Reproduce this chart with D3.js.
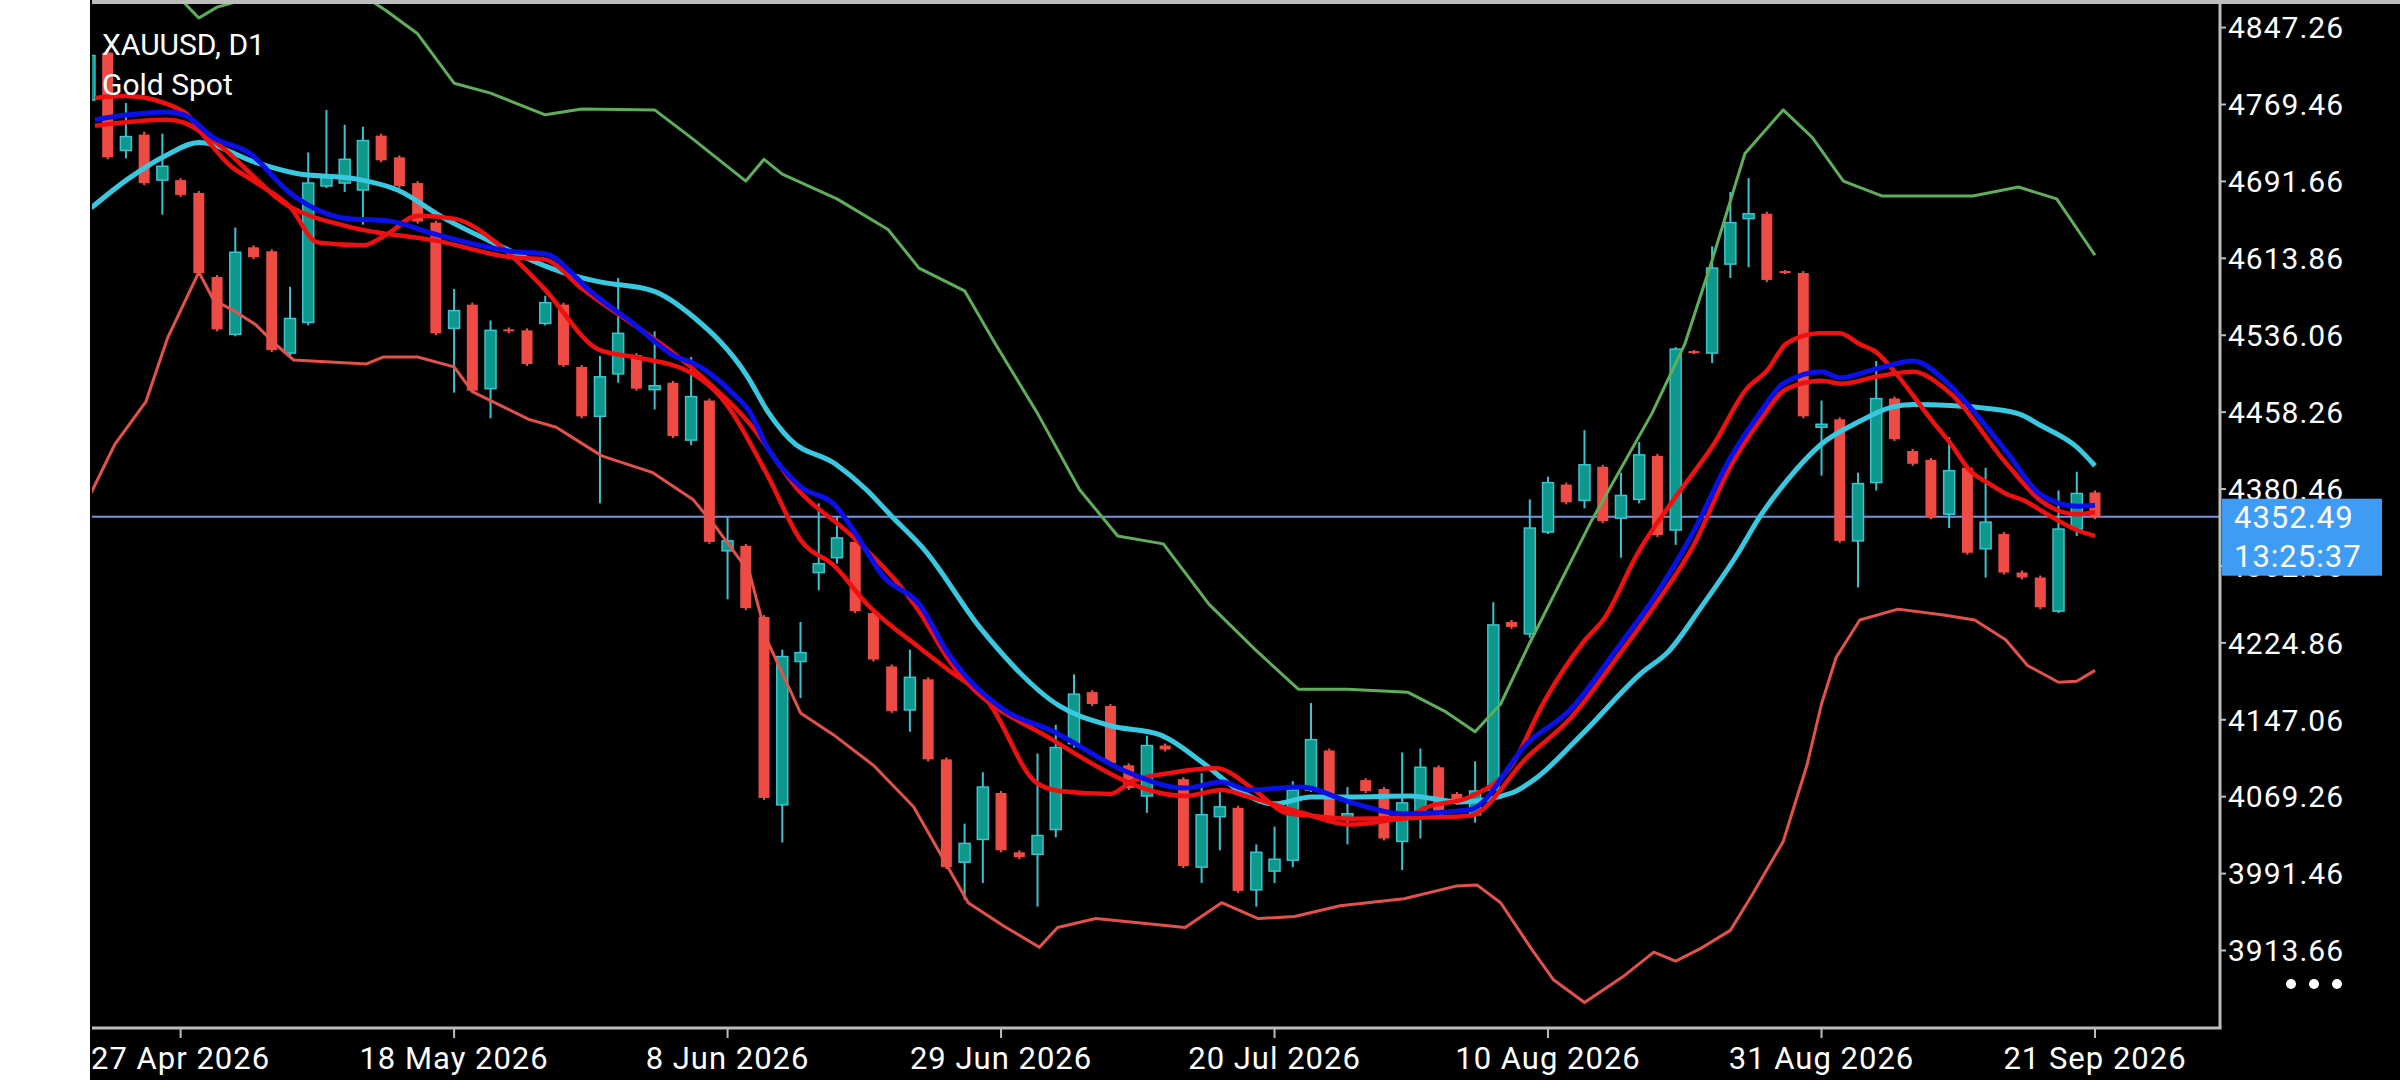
<!DOCTYPE html>
<html>
<head>
<meta charset="utf-8">
<script src="https://cdn.jsdelivr.net/npm/d3@7"></script>
<style>
  html, body { margin: 0; padding: 0; background: #000; }
  svg { display: block; }
</style>
</head>
<body>
<svg id="chart" width="2400" height="1080"></svg>
<script>
// bar index 0 = 27 Apr 2026, 105 = 21 Sep 2026
var barStart = -5;
var opens  = [4774,4822,4723,4739,4693, 4693,4680,4595,4537,4625, 4621,4518,4549,4687,4690, 4683,4738,4716,4690,4650,
  4543,4567,4482,4542,4541, 4548,4567,4504,4454,4497, 4516,4481,4488,4430,4470, 4318,4323,4251,4061,4206,
  4296,4311,4327,4255,4201, 4157,4188,4107,4003,4026, 4073,4013,4011,4036,4123, 4175,4161,4101,4070,4121,
  4087,3998,4049,4058,3975, 3994,4005,4076,4116,4046, 4086,4077,4024,4049,4099, 4072,4051,4076,4246,4234,
  4337,4385,4369,4403,4351, 4370,4414,4339,4520,4518, 4608,4654,4659,4601,4599, 4443,4451,4328,4387,4472,
  4419,4410,4355,4402,4320, 4335,4296,4291,4257,4340, 4377];
var highs  = [4825,4826,4771,4742,4740, 4695,4682,4597,4645,4627, 4623,4585,4721,4764,4749, 4747,4740,4718,4692,4652,
  4583,4569,4551,4544,4543, 4576,4569,4506,4515,4594, 4518,4540,4490,4514,4472, 4352,4325,4253,4218,4246,
  4366,4353,4329,4257,4203, 4218,4190,4109,4042,4094, 4075,4015,4113,4142,4193, 4177,4163,4103,4131,4123,
  4089,4093,4076,4060,4021, 4039,4085,4164,4118,4079, 4088,4079,4114,4118,4101, 4074,4105,4266,4248,4370,
  4393,4387,4440,4405,4397, 4428,4416,4524,4521,4626, 4681,4695,4661,4602,4601, 4470,4453,4397,4510,4474,
  4421,4412,4433,4404,4402, 4337,4298,4293,4379,4398, 4379];
var lows   = [4770,4714,4715,4688,4658, 4676,4597,4540,4535,4613, 4519,4514,4546,4685,4681, 4648,4711,4685,4649,4536,
  4478,4478,4452,4538,4505, 4546,4504,4452,4366,4488, 4480,4461,4432,4425,4325, 4269,4258,4066,4023,4169,
  4278,4305,4255,4206,4154, 4135,4105,3996,3965,3982, 4013,4006,3958,4028,4119, 4161,4101,4076,4053,4115,
  3997,3982,4015,3972,3958, 3982,3998,4074,4047,4021, 4073,4025,3995,4027,4047, 4061,4043,4074,4239,4230,
  4335,4365,4361,4346,4311, 4366,4332,4324,4517,4508, 4594,4605,4590,4598,4452, 4394,4326,4281,4379,4429,
  4404,4350,4341,4314,4291, 4294,4289,4259,4255,4333, 4350];
var closes = [4819,4716,4737,4690,4707, 4678,4599,4542,4620,4615, 4521,4553,4690,4698,4714, 4733,4713,4687,4651,4538,
  4561,4480,4541,4540,4507, 4569,4506,4454,4494,4538, 4482,4485,4434,4474,4327, 4328,4260,4068,4211,4215,
  4305,4331,4257,4208,4156, 4190,4107,3998,4022,4079, 4015,4008,4030,4119,4173, 4163,4103,4078,4121,4117,
  3999,4051,4059,3974,4013, 4006,4076,4127,4049,4052, 4075,4027,4063,4099,4049, 4063,4075,4243,4241,4341,
  4387,4367,4405,4348,4374, 4415,4334,4522,4518,4604, 4650,4659,4592,4599,4454, 4446,4328,4386,4472,4431,
  4406,4352,4399,4316,4347, 4296,4291,4261,4340,4376, 4352.49];

// indicator lines, sampled at bar positions
var upperK = [-5,0,1,2,3,5,8,10,11.3,13,15,17,20,22,26,28,31,32,33,36,38.8,40.5,43,44.7,47,49.3,51.4,53.9,56.4,59,61.3,64,67.3,69.4,71,72.4,74,77.4,80.7,82.5,84,85.8,87.9,89.5,91.2,93.3,98.3,100.8,102.9,105];
var upperV = [4900,4876,4857,4868,4873,4890,4895,4880,4864,4841,4791,4781,4759,4765,4764,4736,4692,4714,4699,4674,4643,4604,4581,4527,4457,4380,4333,4325,4264,4217,4178,4178,4175,4155,4135,4163,4225,4349,4457,4527,4612,4720,4764,4736,4692,4677,4677,4686,4674,4617];
var lowerK = [-4.9,-3.6,-1.9,-0.7,1,1.8,2.9,4.1,5.2,6.2,10.2,11.1,13,15,16,19.1,20.6,23.1,25.9,28.1,29.4,31.2,32.2,34,35.8,38,40.2,43.2,45.1,47.1,48.1,50.2,55.1,57.1,59.1,61.1,63.6,67.1,70,71.1,72.4,74.1,75.3,77,79.1,80.8,82,83.3,85,86.2,87.9,89.2,90,90.8,92.1,94.2,96.7,98.4,100.1,101.3,103,104,105];
var lowerV = [4377,4426,4469,4534,4600,4572,4561,4547,4527,4511,4507,4514,4514,4504,4479,4451,4443,4414,4397,4370,4341,4296,4226,4154,4132,4101,4059,3962,3939,3917,3937,3946,3937,3962,3946,3948,3959,3966,3979,3980,3962,3915,3884,3861,3887,3912,3903,3915,3934,3970,4024,4101,4163,4210,4248,4259,4253,4248,4228,4202,4185,4186,4197];
var blueK = [-4.7,-2.9,-0.7,0.2,1.8,3.8,6,9.2,11.3,14.2,18.1,20.1,21.4,22.1,24.9,27.2,28.1,30.3,31.2,32.2,34,35.9,36.9,38.5,40.6,42,45.1,47.9,51.7,55.1,57.1,58.6,61.5,64.1,67,70.7,73.9,76.2,78.9,80.9,83,85,86.6,87.9,90,91,93,95,96.9,98.3,100.2,102,104,105];
var blueV = [4754,4759,4762,4759,4736,4720,4680,4654,4652,4637,4621,4618,4600,4587,4547,4514,4508,4477,4459,4422,4383,4364,4339,4293,4262,4217,4158,4135,4096,4078,4084,4076,4079,4064,4052,4056,4124,4157,4222,4273,4338,4412,4457,4487,4499,4493,4502,4510,4488,4460,4417,4375,4363,4364];
var redMidK = [-4.7,-0.7,0.2,1.8,6,9.2,14.2,18.1,19.9,22.1,28.1,31.1,34,36.7,40.6,42,47.9,55.1,57.1,58.6,61.5,64.1,67,70.7,73.9,76.2,78.9,80.9,83,85,86.6,88.1,90,91.1,93,95,96.9,100.2,102,104,105];
var redMidV = [4748,4754,4751,4733,4666,4646,4631,4615,4613,4582,4502,4449,4377,4335,4254,4211,4126,4070,4076,4069,4053,4041,4047,4050,4110,4148,4213,4264,4324,4403,4449,4482,4490,4487,4494,4499,4480,4405,4369,4355,4357];
var redFastK = [-4.7,-3,0.2,1.3,2.7,4.1,6,7.5,10,11.3,13,15,17.5,19.9,23,25.2,27.9,29.6,32.2,34,35.9,37.6,40.6,42,44.3,46.9,48.2,51,52.1,54.2,56.8,58.9,60.6,62,64.1,67,68.4,70.7,73,74.8,77,78.1,79.9,81.9,84.1,85.9,87,88.1,89.9,91,92.1,93,94.1,96,97.1,98.2,99.1,100.2,101.1,102.2,104,105];
var redFastV = [4776,4778,4762,4737,4708,4691,4666,4630,4627,4638,4657,4654,4627,4584,4521,4513,4499,4474,4394,4329,4302,4265,4219,4199,4165,4084,4075,4072,4084,4093,4098,4076,4053,4050,4047,4048,4059,4069,4101,4166,4227,4250,4315,4370,4426,4482,4500,4528,4538,4538,4527,4519,4497,4451,4426,4398,4387,4375,4369,4357,4339,4333];
var cyanK = [-4.9,-2.9,-0.7,1,4.1,6.3,9.7,11.9,14.4,17,20.9,23,25.9,28.1,31.1,32.2,33.4,35.9,37.6,39,40.8,43.9,48.2,51,53.7,56.1,58,60,62,64.1,67.4,70.2,73,74.2,77,80.1,81.6,83.4,85.4,86.6,88.1,90,92.1,93.8,95,97.1,99.1,100.9,102,104,105];
var cyanV = [4665,4694,4719,4731,4711,4700,4694,4683,4655,4631,4600,4590,4581,4555,4494,4459,4431,4406,4380,4353,4319,4239,4161,4141,4132,4103,4076,4062,4069,4069,4070,4064,4073,4086,4135,4194,4216,4261,4315,4352,4389,4426,4449,4463,4466,4465,4462,4456,4445,4423,4404];

var priceTicks = [4847.26,4769.46,4691.66,4613.86,4536.06,4458.26,4380.46,4302.66,4224.86,4147.06,4069.26,3991.46,3913.66];
var dateTickIdx = [0,15,30,45,60,75,90,105];
var dateTickLabels = ["27 Apr 2026","18 May 2026","8 Jun 2026","29 Jun 2026","20 Jul 2026","10 Aug 2026","31 Aug 2026","21 Sep 2026"];
var lastPrice = 4352.49;
var timerText = "13:25:37";

var plotL = 92, plotR = 2220, plotT = 3, plotB = 1028;
var svg = d3.select('#chart');
var x = d3.scaleLinear().domain([0, 105]).range([180.6, 2095]);
var y = d3.scaleLinear().domain([3913.66, 4847.26]).range([950.5, 27.6]);

svg.append('defs').append('clipPath').attr('id', 'plotclip')
  .append('rect').attr('x', plotL).attr('y', plotT).attr('width', plotR - plotL).attr('height', plotB - plotT);

var plot = svg.append('g').attr('clip-path', 'url(#plotclip)');

// current price line
plot.append('line').attr('x1', plotL).attr('x2', plotR)
  .attr('y1', y(lastPrice)).attr('y2', y(lastPrice))
  .attr('stroke', '#7a95dc').attr('stroke-width', 2);

// candles
var bars = opens.map(function(o, i) {
  return { k: barStart + i, o: o, h: highs[i], l: lows[i], c: closes[i] };
});
var bw = 11;
bars.forEach(function(d) {
  var up = d.c >= d.o;
  var g = plot.append('g');
  g.append('line').attr('x1', x(d.k)).attr('x2', x(d.k))
    .attr('y1', y(d.h)).attr('y2', y(d.l))
    .attr('stroke', up ? '#3cc3cf' : '#ef5350').attr('stroke-width', 2);
  var top = y(Math.max(d.o, d.c)), bot = y(Math.min(d.o, d.c));
  g.append('rect').attr('x', x(d.k) - bw / 2).attr('y', top)
    .attr('width', bw).attr('height', Math.max(bot - top, 2))
    .attr('fill', up ? '#0e978b' : '#ef4b45')
    .attr('stroke', up ? '#3cc3cf' : 'none').attr('stroke-width', up ? 1.5 : 0);
});

function drawLine(ks, vs, color, width, curve) {
  var pts = ks.map(function(k, i) { return [k, vs[i]]; });
  plot.append('path').datum(pts)
    .attr('d', d3.line().x(function(d) { return x(d[0]); }).y(function(d) { return y(d[1]); }).curve(curve))
    .attr('fill', 'none').attr('stroke', color).attr('stroke-width', width)
    .attr('stroke-linejoin', 'round');
}
drawLine(upperK, upperV, '#5fae5a', 3, d3.curveLinear);
drawLine(lowerK, lowerV, '#e4504a', 3, d3.curveLinear);
drawLine(cyanK, cyanV, '#38c8e0', 5, d3.curveMonotoneX);
drawLine(redFastK, redFastV, '#f01010', 4.5, d3.curveMonotoneX);
drawLine(redMidK, redMidV, '#ee1010', 4.5, d3.curveMonotoneX);
drawLine(blueK, blueV, '#0a10e8', 5, d3.curveMonotoneX);

// frame
svg.append('line').attr('x1', plotL).attr('x2', 2400).attr('y1', 2).attr('y2', 2).attr('stroke', '#bdbdbd').attr('stroke-width', 4);
svg.append('line').attr('x1', plotR).attr('x2', plotR).attr('y1', 0).attr('y2', plotB).attr('stroke', '#bdbdbd').attr('stroke-width', 3);
svg.append('line').attr('x1', plotL).attr('x2', plotR + 1.5).attr('y1', plotB).attr('y2', plotB).attr('stroke', '#bdbdbd').attr('stroke-width', 3);

// price axis
priceTicks.forEach(function(p) {
  svg.append('line').attr('x1', plotR).attr('x2', plotR + 6).attr('y1', y(p)).attr('y2', y(p)).attr('stroke', '#bdbdbd').attr('stroke-width', 2);
  svg.append('text').attr('x', plotR + 8).attr('y', y(p)).attr('dy', '0.36em')
    .attr('fill', '#fff').attr('font-family', 'Roboto').attr('font-size', 30).attr('letter-spacing', 1)
    .text(p.toFixed(2));
});

// date axis
dateTickIdx.forEach(function(k, i) {
  svg.append('line').attr('x1', x(k)).attr('x2', x(k)).attr('y1', plotB).attr('y2', plotB + 10).attr('stroke', '#bdbdbd').attr('stroke-width', 2);
  svg.append('text').attr('x', x(k)).attr('y', 1069).attr('text-anchor', 'middle')
    .attr('fill', '#fff').attr('font-family', 'Roboto').attr('font-size', 31).attr('letter-spacing', 1)
    .text(dateTickLabels[i]);
});

// last price label
var ly = y(lastPrice);
svg.append('rect').attr('x', plotR + 2).attr('y', ly - 18).attr('width', 160).attr('height', 77).attr('fill', '#3f9cf4');
svg.append('text').attr('x', plotR + 14).attr('y', ly + 11).attr('fill', '#fff')
  .attr('font-family', 'Roboto').attr('font-size', 31).attr('letter-spacing', 1).text(lastPrice.toFixed(2));
svg.append('text').attr('x', plotR + 14).attr('y', ly + 50).attr('fill', '#fff')
  .attr('font-family', 'Roboto').attr('font-size', 31).attr('letter-spacing', 1).text(timerText);

// dots
[2291, 2314, 2337].forEach(function(cx) {
  svg.append('circle').attr('cx', cx).attr('cy', 984).attr('r', 5).attr('fill', '#fff');
});

// title
svg.append('text').attr('x', 102).attr('y', 55).attr('fill', '#fff').attr('font-family', 'Roboto').attr('font-size', 30).text('XAUUSD, D1');
svg.append('text').attr('x', 102).attr('y', 95).attr('fill', '#fff').attr('font-family', 'Roboto').attr('font-size', 30).text('Gold Spot');

// white margin on the left
svg.append('rect').attr('x', 0).attr('y', 0).attr('width', plotL - 2).attr('height', 1080).attr('fill', '#fff');
</script>
</body>
</html>
